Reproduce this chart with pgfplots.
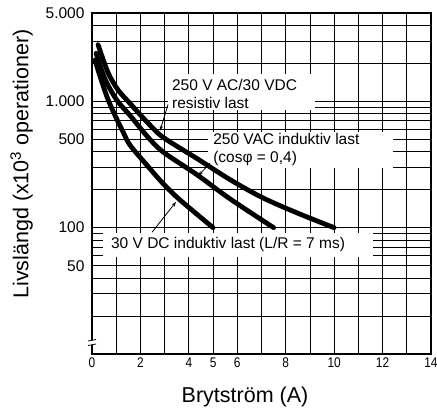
\documentclass[border=0pt]{standalone}
\usepackage{fontspec}
\setmainfont{Liberation Sans}
\newfontfamily\narrowfont[FakeStretch=0.85]{Liberation Sans}
\usepackage{pgfplots}
\pgfplotsset{compat=1.18}
\usetikzlibrary{arrows.meta}

\begin{document}
\begin{tikzpicture}[
    lbl/.style={anchor=west, align=left, inner sep=0pt, font=\fontsize{15.5}{18}\selectfont},
    lead/.style={black, line width=0.8pt, -{Stealth[length=5pt,width=3.5pt]}},
]
\useasboundingbox (-92pt,-54pt) rectangle (345pt,354pt);
\begin{axis}[
    at={(0,0)}, anchor=south west,
    scale only axis, width=339pt, height=341pt,
    xmin=0, xmax=14, ymin=10, ymax=5000,
    ymode=log,
    xtick={0,2,4,5,6,8,10,12,14},
    minor xtick={1,3,7,9,11,13},
    ytick={50,100,500,1000,5000},
    yticklabels={50,100,500,1.000,5.000},
    minor ytick={20,30,40,60,70,80,90,200,300,400,600,700,800,900,2000,3000,4000},
    grid=both,
    major grid style={black, line width=0.8pt},
    minor grid style={black, line width=0.8pt},
    major tick length=0pt, minor tick length=0pt,
    axis line style={black, line width=1.3pt},
    /pgf/number format/assume math mode=true,
    xticklabel style={font=\narrowfont\fontsize{14}{14}\selectfont},
    yticklabel style={font=\fontsize{15.5}{15.5}\selectfont, xshift=-4pt},
]
% label boxes (cover the grid)
\fill[white] (axis cs:3.14,855) rectangle (axis cs:9.21,1633);
\node[lbl] at (axis cs:3.30,1150) {250 V AC/30 VDC\\resistiv last};
\fill[white] (axis cs:4.79,296) rectangle (axis cs:12.43,574);
\node[lbl] at (axis cs:5.00,413) {250 VAC induktiv last\\(cosφ = 0,4)};
\fill[white] (axis cs:0.45,59) rectangle (axis cs:11.60,90);
\node[lbl] at (axis cs:0.78,73) {30 V DC induktiv last (L/R = 7 ms)};

% 250 V AC / 30 VDC resistiv last
\addplot[black, line width=4.8pt, smooth, line cap=round] coordinates {
    (0.25,2805) (0.66,1691) (1.07,1234) (1.57,962) (2.27,687) (2.93,520)
    (4.34,352) (5.70,240) (7.06,172) (8.59,128) (10,100)
};
% 250 VAC induktiv last
\addplot[black, line width=4.8pt, smooth, line cap=round] coordinates {
    (0.17,2399) (0.54,1496) (1.03,1018) (1.57,774) (2.27,531)
    (2.93,398) (4.34,262) (5.70,169) (7.5,100)
};
% 30 V DC induktiv last
\addplot[black, line width=4.8pt, smooth, line cap=round] coordinates {
    (0.12,2123) (0.41,1419) (0.66,1036) (0.95,774) (1.28,574)
    (1.57,450) (2.27,312) (2.93,224) (3.63,166) (5,100)
};

\draw[lead] (axis cs:3.14,944) -- (axis cs:2.81,586);
\draw[lead] (axis cs:4.87,323) -- (axis cs:4.38,257);
\draw[lead] (axis cs:2.48,92) -- (axis cs:3.47,160);
\end{axis}

% axis break
\fill[white] (-3pt,9pt) rectangle (3pt,14pt);
\draw[line width=0.8pt] (-4pt,8.5pt) -- (4pt,10pt);
\draw[line width=0.8pt] (-4pt,13pt) -- (4pt,14.5pt);

\node[rotate=90, font=\fontsize{21.5}{22}\selectfont] at (-70.5pt,190pt)
    {Livslängd (x10\textsuperscript{3} operationer)};
\node[font=\fontsize{21.5}{22}\selectfont] at (153pt,-43pt) {Brytström (A)};
\end{tikzpicture}
\end{document}
